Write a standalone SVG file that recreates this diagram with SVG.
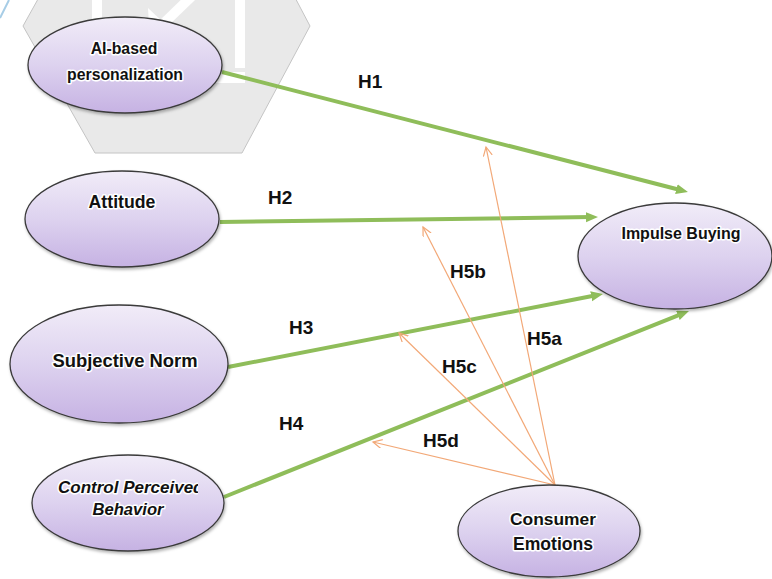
<svg xmlns="http://www.w3.org/2000/svg" width="772" height="579" viewBox="0 0 772 579">
<defs>
<style>
.node{fill:url(#lav);stroke:#3a3a3a;stroke-width:1.3;filter:url(#sh)}
.nt{font-family:"Liberation Sans",Arial,sans-serif;font-weight:bold;font-size:17px;fill:#111;stroke:#fff;stroke-width:3;stroke-linejoin:round;paint-order:stroke}
.c{text-anchor:middle}
.s{text-anchor:start}
.g{stroke:#8fbd5a;stroke-width:4;fill:none;marker-end:url(#ga)}
.o{stroke:#f2a877;stroke-width:1.2;fill:none;marker-end:url(#oa)}
.lb{font-family:"Liberation Sans",Arial,sans-serif;font-weight:bold;font-size:19px;fill:#111}
</style>
<linearGradient id="lav" x1="0" y1="0" x2="0" y2="1">
<stop offset="0" stop-color="#f1ecf8"/>
<stop offset="0.5" stop-color="#ddd2ef"/>
<stop offset="1" stop-color="#c6b2e3"/>
</linearGradient>
<filter id="sh" x="-10%" y="-10%" width="125%" height="130%">
<feDropShadow dx="1" dy="2" stdDeviation="1.5" flood-color="#000" flood-opacity="0.3"/>
</filter>
<marker id="ga" markerUnits="userSpaceOnUse" markerWidth="14" markerHeight="12" refX="5" refY="5" orient="auto">
<path d="M0,0 L12,5 L0,10 z" fill="#8fbd5a"/>
</marker>
<marker id="oa" markerUnits="userSpaceOnUse" markerWidth="12" markerHeight="12" refX="9" refY="4.5" orient="auto">
<path d="M0,0 L9,4.5 L0,9" fill="none" stroke="#f2a877" stroke-width="1.2"/>
</marker>
<clipPath id="cpb"><rect x="40" y="460" width="158" height="90"/></clipPath>
</defs>
<rect width="772" height="579" fill="#fff"/>
<g id="background">
<polygon points="95,-103 23,26 95,153 242,153 310,26 242,-103" fill="#e9e9e9" stroke="#c4c4c4" stroke-width="1"/>
<g fill="#fff">
<rect x="92" y="0" width="10" height="83"/>
<rect x="235" y="0" width="10" height="68"/>
<rect x="92" y="72" width="153" height="11"/>
<polygon points="148,8 150,42 180,38"/>
<line x1="163" y1="24" x2="192" y2="-4" stroke="#fff" stroke-width="10"/>
</g>
<line x1="0" y1="18" x2="9" y2="0" stroke="#a7cde6" stroke-width="2"/>
</g>
<g id="connectors">
<path class="g" d="M222,72 L681.2,190.3"/>
<path class="g" d="M220,222 L591,217.1"/>
<path class="g" d="M228,367 L596.1,295.3"/>
<path class="g" d="M224,497 L682.5,313.6"/>
<path class="o" d="M555,485 L486,147"/>
<path class="o" d="M555,485 L423,227"/>
<path class="o" d="M555,485 L399,333"/>
<path class="o" d="M555,485 L373,442"/>
<text class="lb" x="358" y="88">H1</text>
<text class="lb" x="268" y="204">H2</text>
<text class="lb" x="289" y="334">H3</text>
<text class="lb" x="279" y="430">H4</text>
<text class="lb" x="450" y="278">H5b</text>
<text class="lb" x="527" y="345">H5a</text>
<text class="lb" x="442" y="373">H5c</text>
<text class="lb" x="423" y="447">H5d</text>
</g>
<g id="ai-personalization">
<ellipse class="node" cx="125" cy="65" rx="97" ry="48"/>
<text class="nt c" x="124" y="54" style="font-size:15.8px">AI-based</text>
<text class="nt c" x="125" y="80" style="font-size:15.8px">personalization</text>
</g>
<g id="attitude">
<ellipse class="node" cx="122" cy="219" rx="97" ry="48"/>
<text class="nt c" x="122" y="208" style="font-size:17.7px">Attitude</text>
</g>
<g id="subjective-norm">
<ellipse class="node" cx="119" cy="364" rx="109" ry="59"/>
<text class="nt c" x="125" y="367" style="font-size:18.4px">Subjective Norm</text>
</g>
<g id="control-perceived-behavior">
<ellipse class="node" cx="128" cy="503" rx="96" ry="48"/>
<text class="nt s" x="58" y="493" font-style="italic" clip-path="url(#cpb)">Control Perceived</text>
<text class="nt c" x="128" y="515" font-style="italic" style="font-size:16.6px">Behavior</text>
</g>
<g id="impulse-buying">
<ellipse class="node" cx="675" cy="256" rx="97" ry="53"/>
<text class="nt c" x="681" y="239" style="font-size:16px">Impulse Buying</text>
</g>
<g id="consumer-emotions">
<ellipse class="node" cx="549" cy="531" rx="91" ry="46"/>
<text class="nt c" x="553" y="525" style="font-size:17.4px">Consumer</text>
<text class="nt c" x="553" y="550" style="font-size:17.6px">Emotions</text>
</g>
</svg>
